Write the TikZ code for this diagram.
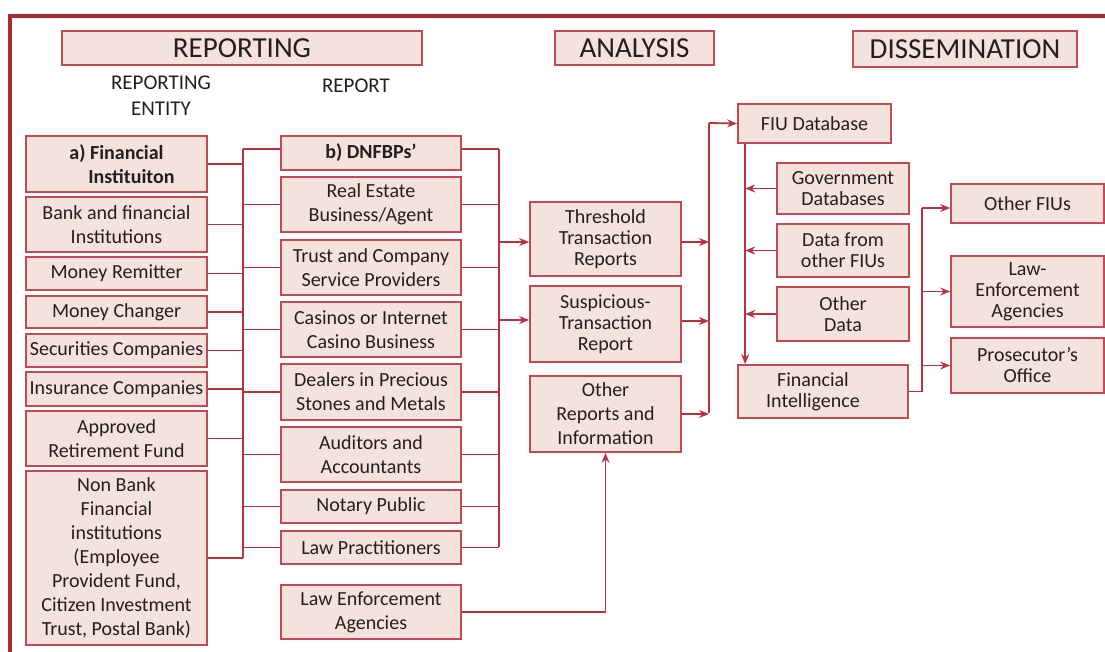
\documentclass[tikz,border=0pt]{standalone}
\usepackage{fontspec}
\setmainfont{Carlito}
\usetikzlibrary{arrows.meta}
\definecolor{boxfill}{HTML}{F4E2DC}
\definecolor{boxline}{HTML}{C24A55}
\definecolor{wire}{HTML}{B83340}
\definecolor{framered}{HTML}{B02A36}
\definecolor{ink}{HTML}{231F20}
\newcommand\bodyfont{\fontsize{20}{24}\selectfont}
\newcommand\tightfont{\fontsize{20}{21}\selectfont}
\newcommand\headfont{\fontsize{29}{32}\selectfont}
\newcommand\subfont{\fontsize{21}{26}\selectfont}
% \bx{name}{x1}{y1}{x2}{y2}{text}: a box given by its corners
\newcommand\bx[7][]{%
  \node[box,#1,minimum width={(#5-#3)*1pt},minimum height={(#6-#4)*1pt}]
    (#2) at ({(#3+#5)/2},{(#4+#6)/2}) {#7};}
\tikzset{
  box/.style={draw=boxline,fill=boxfill,line width=1.7pt,inner sep=0pt,
    align=center,text=ink,font=\bodyfont},
  tight/.style={font=\tightfont},
  head/.style={font=\headfont},
  conn/.style={draw=wire,line width=1.8pt},
  arr/.style={conn,-{Stealth[length=10pt,width=8pt]}},
  frame/.style={draw=framered,line width=3.2pt},
}
\begin{document}
\begin{tikzpicture}[x=1pt,y=-1pt]
\useasboundingbox (0,0) rectangle (1105,651);
% outer frame (top and left edges)
\draw[frame] (10,660) -- (10,16) -- (1110,16);

% stage headers
\bx[head]{hrep}{62}{31}{422}{65}{REPORTING}
\bx[head]{hana}{555}{31}{714}{65}{ANALYSIS}
\bx[head]{hdis}{853}{31}{1077}{67}{DISSEMINATION}
\node[align=center,text=ink,font=\subfont] (sent) at (161,96) {REPORTING\\ENTITY};
\node[text=ink,font=\subfont] (srep) at (356,86) {REPORT};

% reporting entities
\bx{fa}{26}{136}{207}{192}{\bfseries a) Financial\\\hspace*{30pt}\bfseries Instituiton}
\bx{bank}{26}{197}{207}{252}{Bank and financial\\Institutions}
\bx{remit}{26}{257}{207}{290}{Money Remitter}
\bx{chg}{26}{296}{207}{328}{Money Changer}
\bx{sec}{26}{334}{207}{367}{Securities Companies}
\bx{ins}{26}{372}{207}{406}{Insurance Companies}
\bx{arf}{26}{411}{207}{466}{Approved\\Retirement Fund}
\bx{nbf}{26}{471}{207}{645}{Non Bank\\Financial\\institutions\\(Employee\\Provident Fund,\\Citizen Investment\\Trust, Postal Bank)}

% DNFBPs
\bx{dn}{281}{136}{461}{170}{\bfseries b) DNFBPs’}
\bx{re}{281}{177}{461}{232}{Real Estate\\Business/Agent}
\bx{tcsp}{281}{240}{461}{295}{Trust and Company\\Service Providers}
\bx{cas}{281}{302}{461}{357}{Casinos or Internet\\Casino Business}
\bx{dpm}{281}{364}{461}{420}{Dealers in Precious\\Stones and Metals}
\bx{aud}{281}{427}{461}{482}{Auditors and\\Accountants}
\bx{nop}{281}{490}{461}{523}{Notary Public}
\bx{lp}{281}{531}{461}{564}{Law Practitioners}
\bx{lea}{281}{585}{461}{639}{Law Enforcement\\Agencies}

% reports
\bx[tight]{thr}{530}{202}{681}{276}{Threshold\\Transaction\\Reports}
\bx[tight]{str}{530}{286}{681}{362}{Suspicious-\\Transaction\\Report}
\bx{oth}{530}{376}{681}{452}{Other\\Reports and\\Information}

% analysis
\bx{fiu}{738}{104}{891}{143}{FIU Database}
\bx[tight]{gov}{777}{163}{909}{214}{Government\\Databases}
\bx[tight]{dof}{777}{224}{909}{277}{Data from\\other FIUs}
\bx[tight]{od}{777}{287}{909}{341}{Other\\Data}
\bx[tight]{fin}{738}{365}{908}{418}{Financial\hspace*{20pt}\\Intelligence\hspace*{20pt}}

% dissemination
\bx{ofiu}{951}{184}{1104}{223}{Other FIUs}
\bx[tight]{lea2}{951}{256}{1104}{327}{Law-\\Enforcement\\Agencies}
\bx[tight]{pro}{951}{338}{1104}{393}{Prosecutor’s\\Office}

% bus lines
\coordinate (lbusT) at (243,149);
\coordinate (lbusB) at (243,558);
\coordinate (mbusT) at (499,149);
\coordinate (mbusB) at (499,547);
\coordinate (abusT) at (709,123);
\coordinate (abusB) at (709,413);
\coordinate (dbusT) at (922,208);
\coordinate (dbusB) at (922,392);
\coordinate (vline) at ([xshift=8pt]fiu.south west);

\draw[conn] (lbusT) -- (lbusB);
\draw[conn] (mbusT) -- (mbusB);
\draw[conn] (abusT) -- (abusB);
\draw[conn] (dbusT) -- (dbusB);

% entities to the left bus
\foreach \n in {fa,bank,remit,chg,sec,ins,arf,nbf}
  \draw[conn] (\n.east) -- (\n.east -| lbusT);
\draw[conn] ([yshift=4pt]dn.west) -- ([yshift=4pt]dn.west -| lbusT);
\foreach \n in {re,tcsp,cas,dpm,aud,nop,lp}
  \draw[conn] (\n.west) -- (\n.west -| lbusT);

% DNFBPs to the right bus
\draw[conn] ([yshift=4pt]dn.east) -- ([yshift=4pt]dn.east -| mbusT);
\foreach \n in {re,tcsp,cas,dpm,aud,nop,lp}
  \draw[conn] (\n.east) -- (\n.east -| mbusT);

% bus to the reports
\draw[arr] ([yshift=-3pt]thr.west -| mbusT) -- ([yshift=-3pt]thr.west);
\draw[arr] ([yshift=4pt]str.west -| mbusT) -- ([yshift=4pt]str.west);
\draw[arr] (lea.east) -| (oth.south);

% reports to the FIU database
\draw[arr] ([yshift=-3pt]thr.east) -- ([yshift=-3pt]thr.east -| abusT);
\draw[arr] ([yshift=3pt]str.east) -- ([yshift=3pt]str.east -| abusT);
\draw[arr] (oth.east) -- (oth.east -| abusT);
\draw[arr] (abusT) -- (fiu.west);

% analysis
\draw[arr] (vline) -- (vline |- fin.north);
\foreach \n in {gov,dof,od}
  \draw[arr] (\n.west) -- (\n.west -| vline);

% dissemination
\draw[conn] (fin.east) -- (fin.east -| dbusT);
\draw[arr] (dbusT) -- (dbusT -| ofiu.west);
\draw[arr] (lea2.west -| dbusT) -- (lea2.west);
\draw[arr] (pro.west -| dbusT) -- (pro.west);
\end{tikzpicture}
\end{document}
